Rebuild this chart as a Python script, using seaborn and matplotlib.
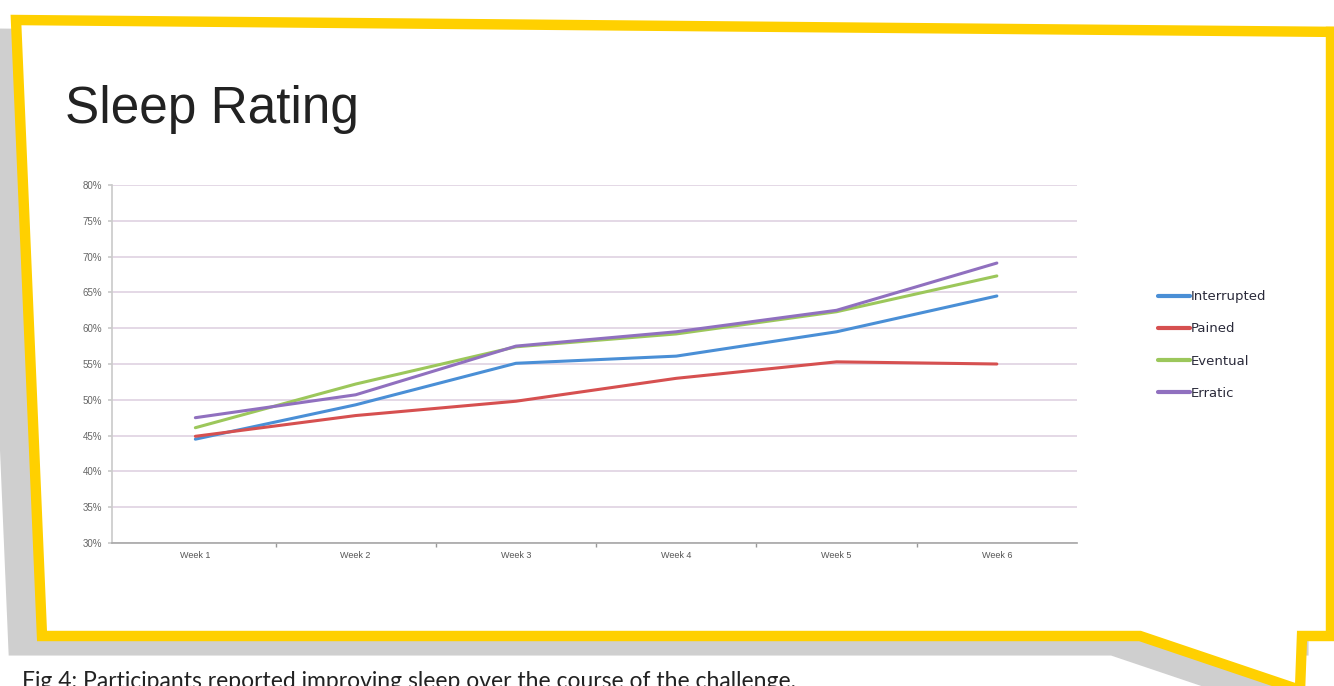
import pandas as pd
import seaborn as sns
import matplotlib.pyplot as plt
from matplotlib.patches import Polygon
from matplotlib.ticker import FixedLocator, PercentFormatter

weeks = ["Week 1", "Week 2", "Week 3", "Week 4", "Week 5", "Week 6"]
interrupted = [44.5, 49.3, 55.1, 56.1, 59.5, 64.5]
pained = [44.9, 47.8, 49.8, 53.0, 55.3, 55.0]
eventual = [46.1, 52.2, 57.4, 59.2, 62.3, 67.3]
erratic = [47.5, 50.7, 57.5, 59.5, 62.5, 69.1]
series = ["Interrupted", "Pained", "Eventual", "Erratic"]
colors = ["#4a8fd6", "#d65050", "#9cc75b", "#9070bf"]

df = pd.DataFrame({
    "week": weeks * 4,
    "pos": list(range(6)) * 4,
    "value": interrupted + pained + eventual + erratic,
    "group": [s for s in series for _ in weeks],
})

sns.set_theme(style="white")
plt.rcParams["font.family"] = ["Liberation Sans", "DejaVu Sans"]

fig = plt.figure(figsize=(13.34, 6.86), dpi=100)
fig.patch.set_facecolor("white")

# фон: тень и жёлтая рамка-выноска (в пикселях)
bg = fig.add_axes([0, 0, 1, 1], zorder=0)
bg.set_xlim(0, 1334)
bg.set_ylim(686, 0)
bg.axis("off")
frame = [(16, 20), (1345, 32), (1331, 32), (1331, 636), (1302, 636),
         (1300, 690), (1140, 636), (42, 636)]
shadow = [(x - 28, y + 14) for x, y in frame]
bg.add_patch(Polygon(shadow, closed=True, facecolor="#cfcfcf", edgecolor="#cfcfcf", lw=8))
bg.add_patch(Polygon(frame, closed=True, facecolor="white", edgecolor="#ffd000",
                     lw=7.5, joinstyle="miter"))

bg.text(65, 110, "Sleep Rating", fontsize=37, color="#222222", va="center", ha="left",
        family=["Liberation Sans", "DejaVu Sans"])
bg.text(22, 671, "Fig 4: Participants reported improving sleep over the course of the challenge.",
        fontsize=16.5, color="#222222", va="top", ha="left", family=["Lato", "DejaVu Sans"])

ax = fig.add_axes([112 / 1334, 1 - 543 / 686, 965 / 1334, 358 / 686], zorder=2)
ax.patch.set_alpha(0)
sns.lineplot(data=df, x="pos", y="value", hue="group", palette=colors,
             linewidth=2.2, ax=ax, legend=True)

ax.set_xlim(-0.52, 5.5)
ax.set_ylim(30, 80)
ax.set_yticks(range(30, 81, 5))
ax.yaxis.set_major_formatter(PercentFormatter(decimals=0))
ax.set_xticks(range(6))
ax.set_xticklabels(weeks)
ax.xaxis.set_minor_locator(FixedLocator([0.5, 1.5, 2.5, 3.5, 4.5]))
ax.tick_params(axis="x", which="major", length=0, labelsize=6.5, labelcolor="#555555", pad=6)
ax.tick_params(axis="x", which="minor", length=3, color="#999999", bottom=True)
ax.tick_params(axis="y", length=3, color="#cccccc", labelsize=7, labelcolor="#666666", left=True, pad=4)
ax.grid(axis="y", color="#e2d6e4", linewidth=1.3)
ax.set_axisbelow(True)
ax.set_xlabel("")
ax.set_ylabel("")
for side in ["top", "right"]:
    ax.spines[side].set_visible(False)
ax.spines["left"].set_color("#cccccc")
ax.spines["bottom"].set_color("#aaaaaa")

ax.legend(loc="center left", bbox_to_anchor=(1158 / 1334, 1 - 345 / 686),
          bbox_transform=fig.transFigure, frameon=False,
          prop={"family": "DejaVu Sans", "size": 9.5},
          handlelength=2.4, handletextpad=0.05, labelspacing=1.45,
          borderpad=0, borderaxespad=0, title=None)
for t in ax.get_legend().get_texts():
    t.set_color("#2a2a3a")
for h in ax.get_legend().get_lines():
    h.set_linewidth(3)

fig.savefig("out.png", dpi=100)
